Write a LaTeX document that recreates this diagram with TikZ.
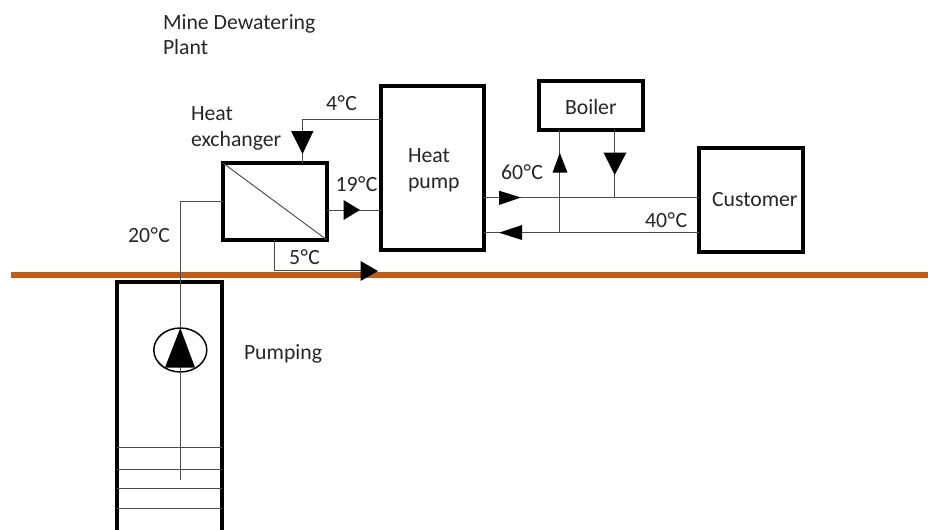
\documentclass[tikz,border=0pt]{standalone}
\usepackage{fontspec}
\usetikzlibrary{shapes.geometric}
\setmainfont{Carlito}
\definecolor{earth}{HTML}{C55A11}
\definecolor{pipe}{gray}{0.3}
\newcommand{\degC}{\kern0.03em°\kern0.02em C}
\tikzset{
  unit/.style={draw=black,line width=3pt,fill=white,inner sep=0pt,outer sep=0pt},
  pipeline/.style={draw=pipe,line width=0.7pt},
  flowtip/.style={fill=black,draw=none},
  lbl/.style={anchor=base west,inner sep=0pt,outer sep=0pt,font=\fontsize{16.3pt}{19pt}\selectfont,text=black!85},
}
\begin{document}
\begin{tikzpicture}[x=0.75pt,y=-0.75pt]
\useasboundingbox (0,0) rectangle (928,529);
% ground
\coordinate (g1) at (11,275);
\coordinate (g2) at (928,275);
\draw[earth,line width=5.2pt] (g1) -- (g2);
% units
\node[unit,minimum width=103.5*0.75pt,minimum height=76.5*0.75pt] (hx) at (275,201.5) {};
\node[unit,minimum width=103*0.75pt,minimum height=164*0.75pt] (hp) at (432.5,168) {};
\node[unit,minimum width=104*0.75pt,minimum height=49*0.75pt] (boiler) at (591,105.5) {};
\node[unit,minimum width=104*0.75pt,minimum height=104*0.75pt] (cust) at (751,200) {};
\node[unit,fill=none,minimum width=104.5*0.75pt,minimum height=268*0.75pt] (well) at (169.5,416) {};
\node[draw=black,line width=1.1pt,ellipse,minimum width=53*0.75pt,minimum height=44*0.75pt,inner sep=0pt,outer sep=0pt] (pump) at (180.3,350) {};
% heat exchanger diagonal
\draw[pipeline] (hx.north west) -- (hx.south east);
% water levels
\foreach \n/\y in {a/447,b/469,c/488,d/508}{
  \coordinate (lev\n) at (169.5,\y);
  \draw[pipeline] (well.west |- lev\n) -- (well.east |- lev\n);
}
% pipes
\coordinate (pbot) at (180.3,480);
\coordinate (pcorner) at (180.3,201);
\draw[pipeline] (pbot) -- (pcorner) -- (hx.west |- pcorner);
\coordinate (c4) at (302.5,119);
\draw[pipeline] (hp.west |- c4) -- (c4) -- (hx.north -| c4);
\coordinate (c19) at (350,210);
\draw[pipeline] (hx.east |- c19) -- (hp.west |- c19);
\coordinate (c5) at (274.5,270.5);
\coordinate (c5e) at (372,270.5);
\draw[pipeline] (hx.south -| c5) -- (c5) -- (c5e);
\coordinate (c60) at (510,197.5);
\coordinate (c40) at (510,232.7);
\draw[pipeline] (hp.east |- c60) -- (cust.west |- c60);
\draw[pipeline] (hp.east |- c40) -- (cust.west |- c40);
\coordinate (bl) at (559.3,190);
\coordinate (br) at (614.7,190);
\draw[pipeline] (boiler.south -| bl) -- (c40 -| bl);
\draw[pipeline] (boiler.south -| br) -- (c60 -| br);
% arrowheads and pump triangle
\fill[flowtip] (291,131) -- (313.5,131) -- (302.5,154) -- cycle;
\fill[flowtip] (343.5,200) -- (343.5,220) -- (360,210) -- cycle;
\fill[flowtip] (360.5,261) -- (360.5,281) -- (378,271) -- cycle;
\fill[flowtip] (499,190.7) -- (499,205) -- (521,197.5) -- cycle;
\fill[flowtip] (522,225) -- (522,240) -- (499,232.7) -- cycle;
\fill[flowtip] (552.5,172.7) -- (567.5,172.7) -- (559.8,152.7) -- cycle;
\fill[flowtip] (603.5,152.5) -- (626.5,152.5) -- (614.7,175) -- cycle;
\fill[flowtip] (165,367.5) -- (195,367.5) -- (180.3,328) -- cycle;
% labels
\node[lbl] (t1) at (163,29) {Mine Dewatering};
\node[lbl] (t2) at (163,54) {Plant};
\node[lbl] (t3) at (191,120) {Heat};
\node[lbl] (t4) at (191,146) {exchanger};
\node[lbl] (t5) at (326,110) {4\degC};
\node[lbl] (t6) at (335.5,191) {19\degC};
\node[lbl] (t7) at (128,242) {20\degC};
\node[lbl] (t8) at (289,264) {5\degC};
\node[lbl] (t9) at (408,162) {Heat};
\node[lbl] (t10) at (408,188) {pump};
\node[lbl] (t11) at (501,179) {60\degC};
\node[lbl] (t12) at (645,227) {40\degC};
\node[lbl] (t13) at (565,114) {Boiler};
\node[lbl] (t14) at (712,206) {Customer};
\node[lbl] (t15) at (244,359) {Pumping};
\end{tikzpicture}
\end{document}
